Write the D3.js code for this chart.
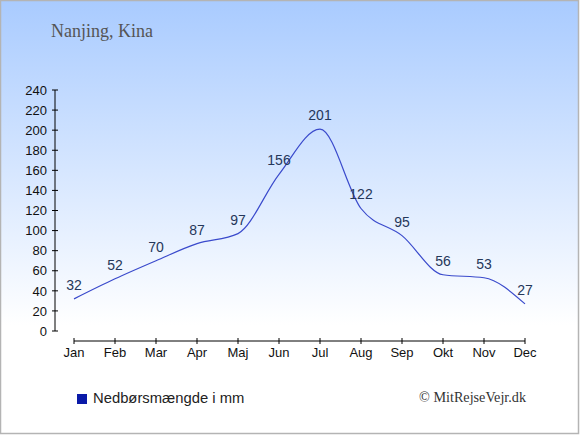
<!DOCTYPE html>
<html><head><meta charset="utf-8">
<script src="https://cdn.jsdelivr.net/npm/d3@7"></script>
<style>body{margin:0;padding:0;overflow:hidden}svg{display:block}</style>
</head><body>
<script>
const months = ["Jan","Feb","Mar","Apr","Maj","Jun","Jul","Aug","Sep","Okt","Nov","Dec"];
const rainfall = [32,52,70,87,97,156,201,122,95,56,53,27];
const yTicks = [0,20,40,60,80,100,120,140,160,180,200,220,240];
const titleText = "Nanjing, Kina";
const legendText = "Nedbørsmængde i mm";
const creditText = "© MitRejseVejr.dk";

const W = 580, H = 435;
const svg = d3.select("body").append("svg").attr("width", W).attr("height", H);
const defs = svg.append("defs");
const grad = defs.append("linearGradient").attr("id","bg").attr("x1",0).attr("y1",0).attr("x2",0).attr("y2",1);
grad.append("stop").attr("offset","0%").attr("stop-color","#a9cbff");
grad.append("stop").attr("offset","75%").attr("stop-color","#ffffff");
grad.append("stop").attr("offset","100%").attr("stop-color","#ffffff");
svg.append("rect").attr("x",0.5).attr("y",0.5).attr("width",578).attr("height",433)
  .attr("fill","url(#bg)").attr("stroke","#b4b4b4").attr("stroke-width",1.5);

const x = d3.scalePoint().domain(months).range([74, 525]);
const y = d3.scaleLinear().domain([0, 240]).range([331, 90]);

// Y axis
const yAxis = svg.append("g").attr("transform","translate(55,0)");
yAxis.append("line").attr("x1",0).attr("x2",0).attr("y1",y(240)).attr("y2",y(0)).attr("stroke","#000");
yAxis.selectAll("line.t").data(yTicks).enter().append("line").attr("class","t")
  .attr("x1",-3).attr("x2",3).attr("y1",d=>y(d)).attr("y2",d=>y(d)).attr("stroke","#000");
yAxis.selectAll("text").data(yTicks).enter().append("text")
  .attr("x",-8).attr("y",d=>y(d)).attr("dy","0.36em").attr("text-anchor","end")
  .attr("font-family","Liberation Sans, Arial, sans-serif").attr("font-size",13).attr("fill","#111")
  .text(d=>d);

// X axis
const xAxis = svg.append("g").attr("transform","translate(0,341)");
xAxis.append("line").attr("x1",x(months[0])).attr("x2",x(months[11])).attr("y1",0).attr("y2",0).attr("stroke","#000");
xAxis.selectAll("line.t").data(months).enter().append("line").attr("class","t")
  .attr("x1",d=>x(d)).attr("x2",d=>x(d)).attr("y1",-3).attr("y2",3).attr("stroke","#000");
xAxis.selectAll("text").data(months).enter().append("text")
  .attr("x",d=>x(d)).attr("y",16).attr("text-anchor","middle")
  .attr("font-family","Liberation Sans, Arial, sans-serif").attr("font-size",13).attr("fill","#111")
  .text(d=>d);

// Line
const line = d3.line().x((d,i)=>x(months[i])).y(d=>y(d)).curve(d3.curveMonotoneX);
svg.append("path").datum(rainfall).attr("d",line).attr("fill","none")
  .attr("stroke","#3a4acc").attr("stroke-width",1.2);

// Value labels
svg.selectAll("text.v").data(rainfall).enter().append("text").attr("class","v")
  .attr("x",(d,i)=>x(months[i])).attr("y",d=>y(d)-9).attr("text-anchor","middle")
  .attr("font-family","Liberation Sans, Arial, sans-serif").attr("font-size",14).attr("fill","#25375a")
  .text(d=>d);

// Title
svg.append("text").attr("x",51).attr("y",37).attr("font-family","Liberation Serif, Times New Roman, serif")
  .attr("font-size",18).attr("fill","#555").text(titleText);

// Legend
svg.append("rect").attr("x",77).attr("y",394).attr("width",10).attr("height",10).attr("fill","#0a1aa8");
svg.append("text").attr("x",93).attr("y",403).attr("font-family","Liberation Sans, Arial, sans-serif")
  .attr("font-size",14.8).attr("fill","#222").text(legendText);

// Credit
svg.append("text").attr("x",526).attr("y",402).attr("text-anchor","end")
  .attr("font-family","Liberation Serif, Times New Roman, serif")
  .attr("font-size",14.2).attr("fill","#333").text(creditText);
</script>
</body></html>
